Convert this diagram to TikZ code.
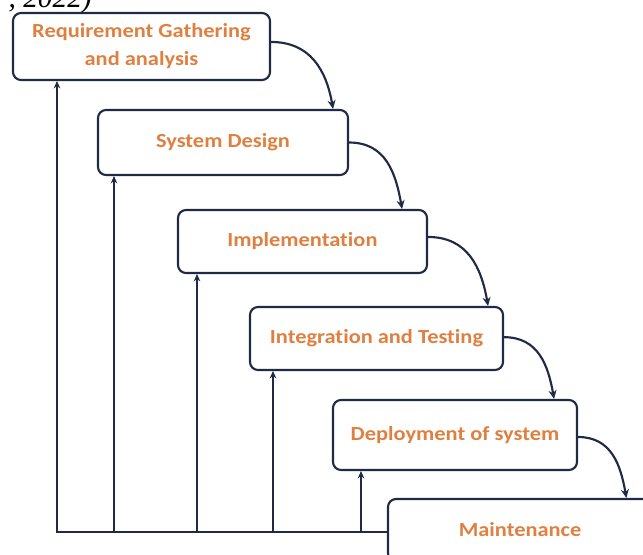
\documentclass[tikz,border=0pt]{standalone}
\usepackage{fontspec}
\setmainfont{Liberation Serif}
\newfontfamily\lblfont[FakeStretch=1.12,Ligatures=CommonOff]{Carlito}
\usetikzlibrary{arrows.meta}
\definecolor{navy}{RGB}{32,42,68}
\definecolor{phaseorange}{RGB}{224,128,64}
\begin{document}
\begin{tikzpicture}[x=0.75pt,y=-0.75pt,
  phase/.style={draw=navy, line width=1.6pt, rounded corners=6pt, fill=white,
    inner sep=0pt, text=phaseorange, align=center,
    font=\lblfont\bfseries\fontsize{15}{21}\selectfont},
  flow/.style={draw=navy, line width=1.6pt, -{Stealth[length=6.5pt,width=6pt]}},
  feed/.style={draw=navy, line width=1.6pt, line join=miter, -{Stealth[length=5.5pt,width=5pt]}}]
\useasboundingbox (0,0) rectangle (643,554);

\node[anchor=base east, inner sep=0pt, font=\itshape\fontsize{22}{22}\selectfont] (cap) at (92,7) {, 2022)};

\node[phase, minimum width=257*0.75pt, minimum height=67*0.75pt] (b1) at (141.5,46.5) {Requirement Gathering\\and analysis};
\node[phase, minimum width=250*0.75pt, minimum height=65*0.75pt] (b2) at (223,142.5) {System Design};
\node[phase, minimum width=249*0.75pt, minimum height=63*0.75pt] (b3) at (302.5,241.5) {Implementation};
\node[phase, minimum width=253*0.75pt, minimum height=63*0.75pt] (b4) at (376.5,338.5) {Integration and Testing};
\node[phase, minimum width=244*0.75pt, minimum height=70*0.75pt] (b5) at (455,435) {Deployment of system};
\node[phase, minimum width=264*0.75pt, minimum height=62*0.75pt] (b6) at (520,530) {Maintenance};

\draw[flow] ([yshift=3.4pt]b1.east) to[out=0,in=100,looseness=1.1] ([xshift=-12pt]b2.north east);
\draw[flow] (b2.east) to[out=0,in=100,looseness=1.1] ([xshift=-19.5pt]b3.north east);
\draw[flow] ([yshift=3.4pt]b3.east) to[out=0,in=100,looseness=1.1] ([xshift=-12pt]b4.north east);
\draw[flow] ([yshift=1pt]b4.east) to[out=0,in=100,looseness=1.1] ([xshift=-18pt]b5.north east);
\draw[flow] ([yshift=-1.5pt]b5.east) to[out=0,in=100,looseness=1.1] ([xshift=-20pt]b6.north east);

\coordinate (c1) at (57,532);
\coordinate (c2) at (114,532);
\coordinate (c3) at (197,532);
\coordinate (c4) at (273,532);
\coordinate (c5) at (361,532);

\draw[feed] (c1 -| b6.west) -- (c1) -- (c1 |- b1.south);
\draw[feed] (c2) -- (c2 |- b2.south);
\draw[feed] (c3) -- (c3 |- b3.south);
\draw[feed] (c4) -- (c4 |- b4.south);
\draw[feed] (c5) -- (c5 |- b5.south);
\end{tikzpicture}
\end{document}
